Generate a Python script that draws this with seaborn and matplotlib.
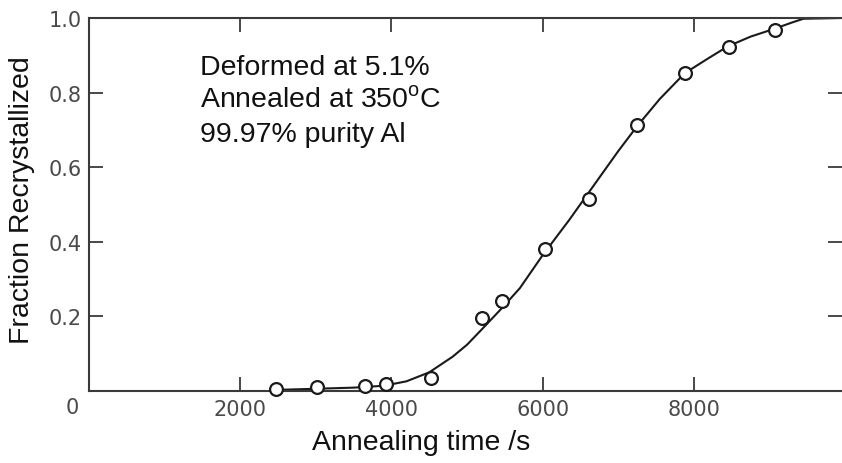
import numpy as np
import pandas as pd
import matplotlib
matplotlib.use("Agg")
import matplotlib.pyplot as plt
import matplotlib.transforms as mtransforms
import seaborn as sns

# measured points (annealing time in s, fraction recrystallized)
time_pts = [2480, 3020, 3650, 3930, 4530, 5200, 5460, 6030, 6620, 7245, 7880, 8460, 9070]
frac_pts = [0.005, 0.010, 0.013, 0.020, 0.034, 0.196, 0.240, 0.382, 0.515, 0.713, 0.853, 0.922, 0.968]

# fitted curve
time_curve = [2480, 3000, 3500, 3900, 4200, 4500, 4810, 5000, 5190, 5470, 5700, 6000,
              6350, 6750, 7000, 7250, 7550, 7880, 8200, 8450, 8750, 9050, 9300, 9450, 9960]
frac_curve = [0.003, 0.006, 0.009, 0.014, 0.026, 0.050, 0.092, 0.124, 0.164, 0.224, 0.276, 0.364,
              0.458, 0.572, 0.643, 0.710, 0.783, 0.852, 0.893, 0.924, 0.950, 0.970, 0.988, 0.998, 1.000]

x_ticks = [2000, 4000, 6000, 8000]
y_ticks = [0, 0.2, 0.4, 0.6, 0.8, 1.0]
y_tick_labels = ["0", "0.2", "0.4", "0.6", "0.8", "1.0"]

annotation_lines = ["Deformed at 5.1%", r"Annealed at 350$^{\mathrm{o}}$C", "99.97% purity Al"]

sns.set_style("ticks")
plt.rcParams["font.family"] = ["Liberation Sans", "DejaVu Sans"]
plt.rcParams["mathtext.fontset"] = "custom"
plt.rcParams["mathtext.rm"] = "Liberation Sans"

W, H = 842, 464
fig = plt.figure(figsize=(W / 100, H / 100), dpi=100)
ax = fig.add_axes([89 / W, (H - 392) / H, 753 / W, 373 / H])

df_curve = pd.DataFrame({"t": time_curve, "f": frac_curve})
df_pts = pd.DataFrame({"t": time_pts, "f": frac_pts})

sns.lineplot(data=df_curve, x="t", y="f", ax=ax, color="#1a1a1a", linewidth=1.5,
             sort=False, zorder=2)
sns.scatterplot(data=df_pts, x="t", y="f", ax=ax, s=85, facecolor="white",
                edgecolor="#1a1a1a", linewidth=1.6, zorder=3, clip_on=False)

ax.set_xlim(0, 9960)
ax.set_ylim(0, 1.0)

spine_col = "#3a3a3a"
for side in ["left", "bottom", "top"]:
    ax.spines[side].set_color(spine_col)
    ax.spines[side].set_linewidth(1.5)
ax.spines["right"].set_visible(False)

ax.set_xticks(x_ticks)
ax.set_xticklabels([str(v) for v in x_ticks])
ax.set_yticks(y_ticks)
ax.set_yticklabels(y_tick_labels)

ax.tick_params(axis="x", which="both", direction="in", length=10, width=1.3, color=spine_col,
               top=True, bottom=True, labeltop=False, labelbottom=True, pad=6,
               labelsize=15, labelcolor="#4a4a4a")
ax.tick_params(axis="y", which="both", direction="in", length=10, width=1.3, color=spine_col,
               left=True, right=True, labelleft=True, labelright=False, pad=5,
               labelsize=15, labelcolor="#4a4a4a")
for lab in ax.get_xticklabels() + ax.get_yticklabels():
    lab.set_family("DejaVu Sans")

# the "0" label sits below the axis line in the original
zero_lab = ax.get_yticklabels()[0]
zero_lab.set_transform(zero_lab.get_transform() +
                       mtransforms.ScaledTranslation(-2 / 72, -10 / 72, fig.dpi_scale_trans))

ax.set_xlabel("Annealing time /s", fontsize=20.5, color="#111111")
ax.set_ylabel("Fraction Recrystallized", fontsize=20.5, color="#111111")
ax.xaxis.label.set(va="center", ha="center")
ax.yaxis.label.set(va="center", ha="center")
ax.xaxis.set_label_coords((421 - 89) / 753, (392 - 443) / 373)
ax.yaxis.set_label_coords((22 - 89) / 753, (392 - 200) / 373)

for line, base in zip(annotation_lines, [75, 108, 142]):
    fig.text(200 / W, 1 - base / H, line, fontsize=20.5, color="#111111",
             ha="left", va="baseline")

fig.savefig("out.png", dpi=100)
